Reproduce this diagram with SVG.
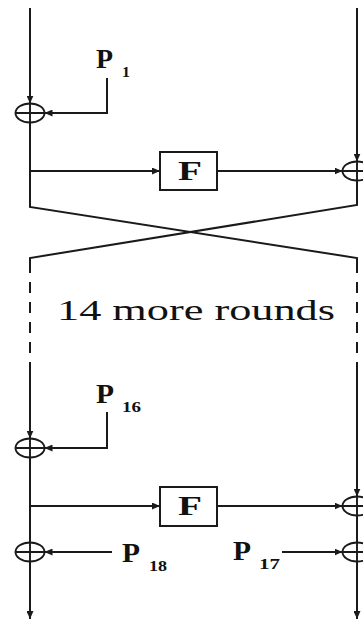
<svg xmlns="http://www.w3.org/2000/svg" width="363" height="622" viewBox="0 0 363 622">
<style>
.ln{fill:none;stroke:#1a1a1a;stroke-width:2}
.ds{fill:none;stroke:#1a1a1a;stroke-width:2;stroke-dasharray:11 9}
.x{fill:none;stroke:#1a1a1a;stroke-width:1.9}
.box{fill:#fff;stroke:#1a1a1a;stroke-width:2}
.t{font-family:"Liberation Serif",serif;fill:#111}
.P{font-size:27px;font-weight:bold}
.s{font-size:14px;font-weight:bold}
.F{font-size:27px;font-weight:bold}
.r{font-size:30px}
</style>
<defs>
<marker id="a" markerUnits="userSpaceOnUse" markerWidth="8" markerHeight="7" refX="8" refY="3.5" orient="auto">
<path d="M0,0 L8,3.5 L0,7 z" fill="#1a1a1a"/>
</marker>
</defs>
<rect width="363" height="622" fill="#fff"/>
<g id="connectors">
<path class="ln" d="M30,8 V103.5" marker-end="url(#a)"/>
<path class="ln" d="M107,78 V113 H44.5" marker-end="url(#a)"/>
<path class="ln" d="M30,122.5 V207 L357,258 V262"/>
<path class="ln" d="M30,171 H160" marker-end="url(#a)"/>
<path class="ln" d="M217,171 H342.5" marker-end="url(#a)"/>
<path class="ln" d="M357,8 V161.5" marker-end="url(#a)"/>
<path class="ln" d="M357,180.5 V205 L30,258 V262"/>
<path class="ds" d="M30,262 V362"/>
<path class="ds" d="M357,262 V362"/>
<path class="ln" d="M30,362 V438.5" marker-end="url(#a)"/>
<path class="ln" d="M107,412 V448 H44.5" marker-end="url(#a)"/>
<path class="ln" d="M30,457.5 V542.5"/>
<path class="ln" d="M30,506 H160" marker-end="url(#a)"/>
<path class="ln" d="M217,506 H342.5" marker-end="url(#a)"/>
<path class="ln" d="M357,362 V496.5" marker-end="url(#a)"/>
<path class="ln" d="M357,515.5 V542.5"/>
<path class="ln" d="M112,552 H44.5" marker-end="url(#a)"/>
<path class="ln" d="M282,552 H342.5" marker-end="url(#a)"/>
<path class="ln" d="M30,561.5 V619" marker-end="url(#a)"/>
<path class="ln" d="M357,561.5 V619" marker-end="url(#a)"/>
</g>
<g id="xor1L"><ellipse class="x" cx="30" cy="113" rx="14.5" ry="9.5"/><path class="x" d="M15.5,113 H44.5 M30,103.5 V122.5"/></g>
<g id="xor1R"><ellipse class="x" cx="357" cy="171" rx="14.5" ry="9.5"/><path class="x" d="M342.5,171 H371.5 M357,161.5 V180.5"/></g>
<g id="xor2L"><ellipse class="x" cx="30" cy="448" rx="14.5" ry="9.5"/><path class="x" d="M15.5,448 H44.5 M30,438.5 V457.5"/></g>
<g id="xor2R"><ellipse class="x" cx="357" cy="506" rx="14.5" ry="9.5"/><path class="x" d="M342.5,506 H371.5 M357,496.5 V515.5"/></g>
<g id="xor3L"><ellipse class="x" cx="30" cy="552" rx="14.5" ry="9.5"/><path class="x" d="M15.5,552 H44.5 M30,542.5 V561.5"/></g>
<g id="xor3R"><ellipse class="x" cx="357" cy="552" rx="14.5" ry="9.5"/><path class="x" d="M342.5,552 H371.5 M357,542.5 V561.5"/></g>
<g id="F1"><rect class="box" x="160" y="152" width="57" height="38"/><text class="t F" x="178" y="180" textLength="24" lengthAdjust="spacingAndGlyphs">F</text></g>
<g id="F2"><rect class="box" x="160" y="487" width="57" height="39"/><text class="t F" x="178" y="515" textLength="24" lengthAdjust="spacingAndGlyphs">F</text></g>
<g id="P1"><text class="t P" x="96" y="68" textLength="17" lengthAdjust="spacingAndGlyphs">P</text><text class="t s" x="122" y="77" textLength="8" lengthAdjust="spacingAndGlyphs">1</text></g>
<g id="P16"><text class="t P" x="96" y="403" textLength="18" lengthAdjust="spacingAndGlyphs">P</text><text class="t s" x="122" y="412" textLength="19" lengthAdjust="spacingAndGlyphs">16</text></g>
<g id="P18"><text class="t P" x="122" y="562" textLength="18" lengthAdjust="spacingAndGlyphs">P</text><text class="t s" x="149" y="571" textLength="18" lengthAdjust="spacingAndGlyphs">18</text></g>
<g id="P17"><text class="t P" x="233" y="560" textLength="18" lengthAdjust="spacingAndGlyphs">P</text><text class="t s" x="259" y="569" textLength="21" lengthAdjust="spacingAndGlyphs">17</text></g>
<g id="rounds"><text class="t r" x="57" y="320" textLength="278" lengthAdjust="spacingAndGlyphs">14 more rounds</text></g>
</svg>
